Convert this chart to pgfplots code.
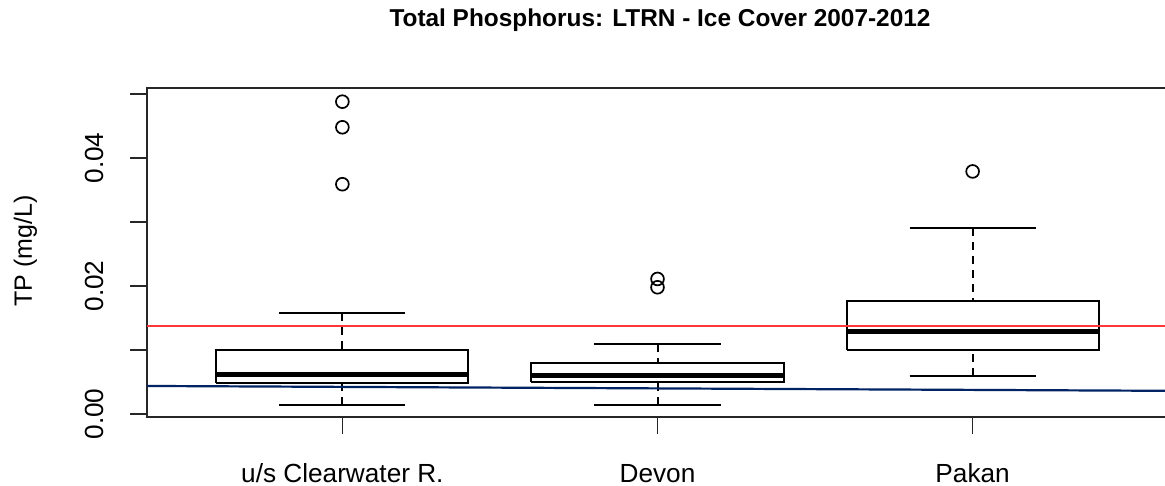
\documentclass[border=0pt]{standalone}
\usepackage{fontspec}
\setmainfont{Liberation Sans}
\usepackage{pgfplots}
\pgfplotsset{compat=1.18}

\definecolor{refred}{RGB}{255,55,55}
\definecolor{refblue}{RGB}{0,35,100}

\begin{document}
\begin{tikzpicture}[font=\fontsize{12.5pt}{14pt}\selectfont]
% page = 1165x486 px at 0.5pt per px, origin at lower left of the plot box
\useasboundingbox (-73.5pt,-34.5pt) rectangle (509pt,208.5pt);

\pgfplotsset{
    box/.style={black,line width=1pt,no marks},
    stem/.style={black,line width=1pt,no marks,dash pattern=on 4pt off 3pt},
    cap/.style={black,line width=1pt,no marks},
    med/.style={black,line width=2.6pt,no marks},
    out/.style={black,only marks,mark=o,mark size=3.2pt,mark options={line width=0.85pt}},
}

\begin{axis}[%
    ,at={(0,0)},anchor=south west
    ,scale only axis
    ,width=510.5pt,height=164.5pt
    ,xmin=0.38,xmax=3.62
    ,ymin=-0.00047,ymax=0.050937
    ,scaled y ticks=false
    ,axis line style={black!85,line width=0.85pt}
    ,tick pos=left
    ,tick align=outside
    ,major tick length=8.5pt
    ,tick style={black!85,line width=0.85pt}
    ,tick label style={font=\fontsize{13.1pt}{15pt}\selectfont}
    ,xtick={1,2,3}
    ,xticklabels={u/s Clearwater R.,Devon,Pakan}
    ,xticklabel style={anchor=base}
    ,xticklabel shift=24pt
    ,ytick={0,0.01,...,0.05}
    ,yticklabels={0.00,,0.02,,0.04,}
    ,yticklabel style={rotate=90,anchor=base}
    ,yticklabel shift=13pt
    ]

% u/s Clearwater R.: whiskers 0.0014/0.0158, box 0.0049-0.0100, median 0.0062
\addplot[stem] coordinates {(1,0.0014) (1,0.0049)};
\addplot[stem] coordinates {(1,0.0158) (1,0.0100)};
\addplot[cap] coordinates {(0.8,0.0014) (1.2,0.0014)};
\addplot[cap] coordinates {(0.8,0.0158) (1.2,0.0158)};
\addplot[box] coordinates {(0.6,0.0049) (1.4,0.0049) (1.4,0.0100) (0.6,0.0100) (0.6,0.0049)};
\addplot[med] coordinates {(0.6,0.0062) (1.4,0.0062)};
\addplot[out] coordinates {(1,0.0488) (1,0.0448) (1,0.0359)};

% Devon: whiskers 0.0014/0.0109, box 0.0050-0.0079, median 0.0060
\addplot[stem] coordinates {(2,0.0014) (2,0.0050)};
\addplot[stem] coordinates {(2,0.0109) (2,0.0079)};
\addplot[cap] coordinates {(1.8,0.0014) (2.2,0.0014)};
\addplot[cap] coordinates {(1.8,0.0109) (2.2,0.0109)};
\addplot[box] coordinates {(1.6,0.0050) (2.4,0.0050) (2.4,0.0079) (1.6,0.0079) (1.6,0.0050)};
\addplot[med] coordinates {(1.6,0.0060) (2.4,0.0060)};
\addplot[out] coordinates {(2,0.0211) (2,0.0198)};

% Pakan: whiskers 0.0060/0.0290, box 0.0100-0.0177, median 0.0129
\addplot[stem] coordinates {(3,0.0060) (3,0.0100)};
\addplot[stem] coordinates {(3,0.0290) (3,0.0177)};
\addplot[cap] coordinates {(2.8,0.0060) (3.2,0.0060)};
\addplot[cap] coordinates {(2.8,0.0290) (3.2,0.0290)};
\addplot[box] coordinates {(2.6,0.0100) (3.4,0.0100) (3.4,0.0177) (2.6,0.0177) (2.6,0.0100)};
\addplot[med] coordinates {(2.6,0.0129) (3.4,0.0129)};
\addplot[out] coordinates {(3,0.0379)};

% reference lines
\addplot[refred,line width=1pt,no marks] coordinates {(0.38,0.01375) (3.62,0.01375)};
\addplot[refblue,line width=1.1pt,no marks] coordinates {(0.38,0.00438) (3.62,0.00362)};
\end{axis}

\node[rotate=90,anchor=base] at (-57.5pt,83pt) {TP (mg/L)};
\node[anchor=base,font=\fontsize{12.2pt}{14pt}\selectfont\bfseries] at (256.5pt,195pt)
  {Total Phosphorus: LTRN - Ice Cover 2007-2012};
\end{tikzpicture}
\end{document}
